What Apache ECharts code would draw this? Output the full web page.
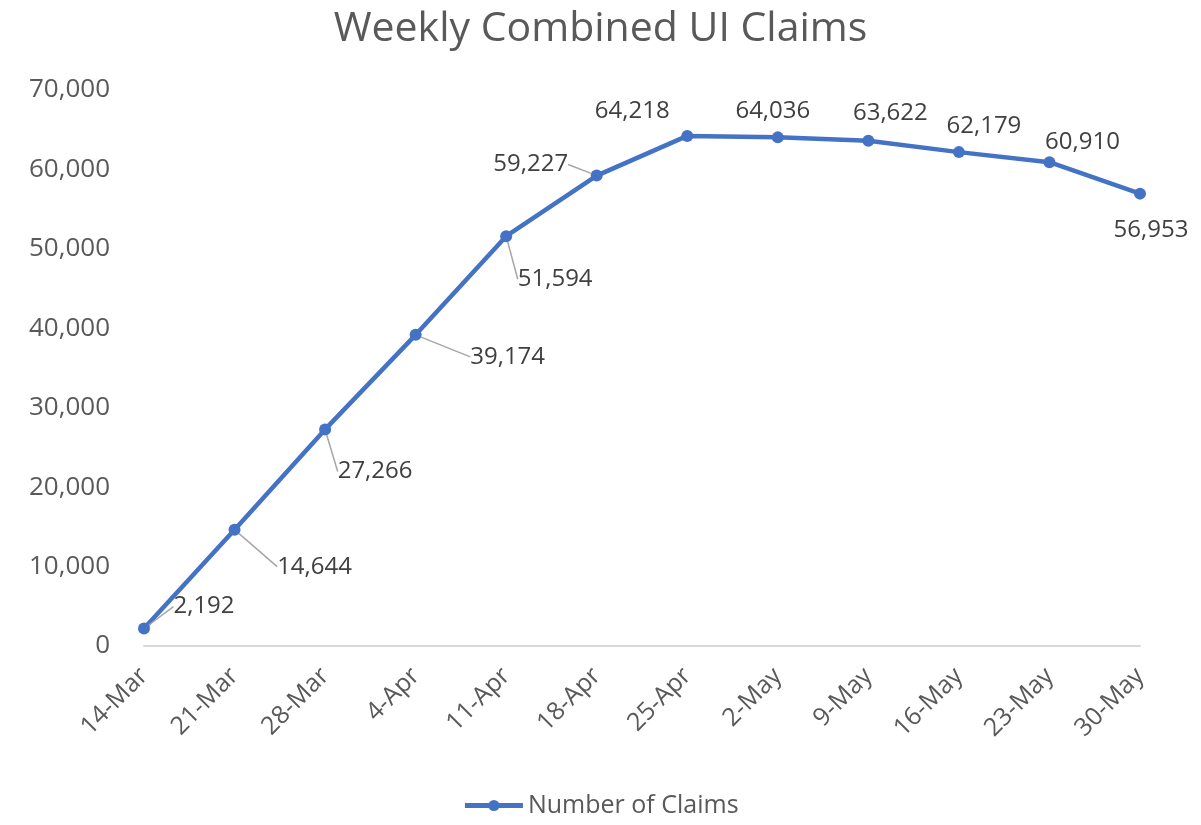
<!DOCTYPE html>
<html>
<head>
<meta charset="utf-8">
<title>Weekly Combined UI Claims</title>
<script src="https://cdn.jsdelivr.net/npm/echarts@6/dist/echarts.min.js"></script>
<style>
  html, body { margin: 0; padding: 0; background: #fff; }
  #chart { width: 1201px; height: 825px; }
</style>
</head>
<body>
<div id="chart"></div>
<script>
  // 数据
  var weeks = ['14-Mar', '21-Mar', '28-Mar', '4-Apr', '11-Apr', '18-Apr', '25-Apr', '2-May', '9-May', '16-May', '23-May', '30-May'];
  var claims = [2192, 14644, 27266, 39174, 51594, 59227, 64218, 64036, 63622, 62179, 60910, 56953];
  // 标签偏移 (相对默认位置)
  var labelOffsets = [
    [60, 4], [80, 63], [50, 68], [92, 48], [49, 69], [-66, 15],
    [-55, 1], [-5, 0], [22, -2], [25, 0], [33, 6], [11, 63]
  ];
  // 是否显示引导线
  var showLeader = [true, true, true, true, true, true, false, false, false, false, false, false];

  var chart = echarts.init(document.getElementById('chart'));
  var font = 'Open Sans';

  // 组装数据项
  var seriesData = claims.map(function (v, i) {
    return { value: v, labelLine: { show: showLeader[i] } };
  });

  var option = {
    title: {
      text: 'Weekly Combined UI Claims',
      left: 'center',
      top: 4,
      textStyle: { fontFamily: font, fontSize: 41, fontWeight: 'normal', color: '#595959' }
    },
    legend: {
      bottom: 2,
      left: 'center',
      itemWidth: 58,
      itemHeight: 14,
      itemGap: 6,
      data: ['Number of Claims'],
      lineStyle: { width: 5 },
      textStyle: { fontFamily: font, fontSize: 25, color: '#595959' }
    },
    grid: {
      left: 144,
      right: 61,
      top: 90,
      bottom: 179
    },
    xAxis: {
      type: 'category',
      boundaryGap: false,
      data: weeks,
      axisLine: { lineStyle: { color: '#d9d9d9', width: 2 } },
      axisTick: { show: false },
      axisLabel: {
        rotate: 45,
        margin: 26,
        fontFamily: font,
        fontSize: 25,
        color: '#595959'
      }
    },
    yAxis: {
      type: 'value',
      min: 0,
      max: 70000,
      interval: 10000,
      splitLine: { show: false },
      axisLine: { show: false },
      axisTick: { show: false },
      axisLabel: {
        margin: 34,
        fontFamily: font,
        fontSize: 26,
        color: '#595959',
        formatter: function (v) {
          return v.toLocaleString('en-US');
        }
      }
    },
    series: [
      {
        name: 'Number of Claims',
        type: 'line',
        data: seriesData,
        symbol: 'circle',
        symbolSize: 12,
        lineStyle: { color: '#4472c4', width: 4.5 },
        itemStyle: { color: '#4472c4' },
        label: {
          show: true,
          position: 'top',
          distance: 8,
          fontFamily: font,
          fontSize: 24,
          color: '#404040',
          formatter: function (p) {
            return p.value.toLocaleString('en-US');
          }
        },
        labelLine: {
          show: true,
          lineStyle: { color: '#a6a6a6', width: 1.5 }
        },
        labelLayout: function (p) {
          var o = labelOffsets[p.dataIndex];
          return { dx: o[0], dy: o[1] };
        }
      }
    ]
  };

  chart.setOption(option);
</script>
</body>
</html>
